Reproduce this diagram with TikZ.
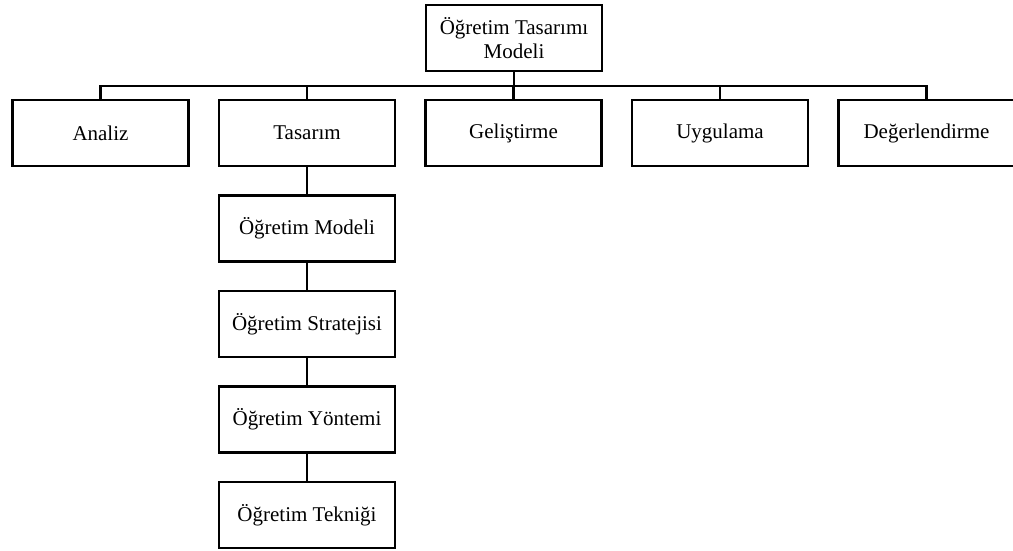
\documentclass[tikz,border=0pt]{standalone}
\usepackage{fontspec}
\setmainfont{Liberation Serif}
\usetikzlibrary{positioning}
\tikzset{
	box node/.style={rectangle, draw, line width=2.5pt, minimum width=176pt, minimum height=66pt, inner sep=0, font=\fontsize{21}{24}\selectfont, align=center},
	link/.style={line width=2.5pt},
}

\begin{document}
\begin{tikzpicture}[x=1pt, y=-1pt, node distance=28pt]
\useasboundingbox (0,0) rectangle (1013,551);

\node[box node] (model) at (514,38) {Öğretim Tasarımı\\Modeli};
\coordinate (bus) at (514,86);

% main phases
\node[box node] (analiz) at (100.5,133) {Analiz};
\node[box node, right=of analiz] (tasarim) {Tasarım};
\node[box node, right=of tasarim] (gelistirme) {Geliştirme};
\node[box node, right=of gelistirme] (uygulama) {Uygulama};
\node[box node, right=of uygulama] (deger) {Değerlendirme};

% under Tasarım
\node[box node, below=27pt of tasarim] (ogmodel) {Öğretim Modeli};
\node[box node, below=27pt of ogmodel] (strateji) {Öğretim Stratejisi};
\node[box node, below=27pt of strateji] (yontem) {Öğretim Yöntemi};
\node[box node, below=27pt of yontem] (teknik) {Öğretim Tekniği};

\draw[link] (model.south) -- (bus);
\draw[link] (analiz.north) |- (bus) -| (deger.north);
\draw[link] (tasarim.north) -- (tasarim.north |- bus);
\draw[link] (gelistirme.north) -- (gelistirme.north |- bus);
\draw[link] (uygulama.north) -- (uygulama.north |- bus);

\draw[link] (tasarim.south) -- (ogmodel.north);
\draw[link] (ogmodel.south) -- (strateji.north);
\draw[link] (strateji.south) -- (yontem.north);
\draw[link] (yontem.south) -- (teknik.north);

\end{tikzpicture}
\end{document}
